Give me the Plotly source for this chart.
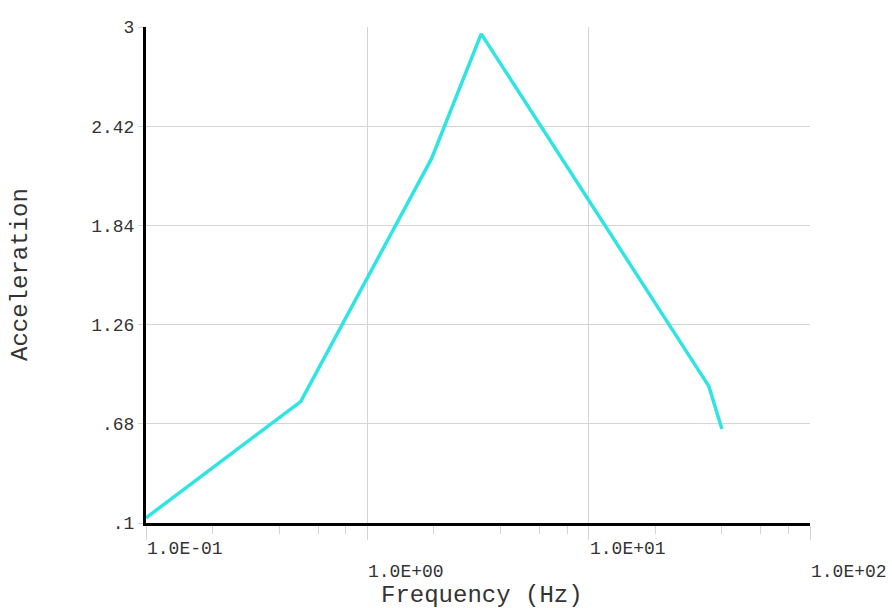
import math
import plotly.graph_objects as go

frequency = [0.1, 0.5, 1.95, 3.27, 34.9, 40.0]
acceleration = [0.13, 0.81, 2.23, 2.96, 0.90, 0.65]

y_tickvals = [0.1, 0.68, 1.26, 1.84, 2.42, 3.0]
y_ticktext = [".1", ".68", "1.26", "1.84", "2.42", "3"]

x_tickvals = [0.1, 1.0, 10.0, 100.0]
x_ticktext = ["1.0E-01", "1.0E+00", "1.0E+01", "1.0E+02"]
x_minor = [m * d for d in (0.1, 1.0, 10.0) for m in (2, 4, 6, 8)]

x_title = "Frequency (Hz)"
y_title = "Acceleration"

FONT = "Liberation Mono, Courier New, monospace"
GRID = "#d4d4d4"
TXT = "#333333"

fig = go.Figure()
fig.add_trace(go.Scatter(
    x=frequency, y=acceleration, mode="lines",
    line=dict(color="#30e4e4", width=3.5), showlegend=False,
))

for i, (v, t) in enumerate(zip(x_tickvals, x_ticktext)):
    fig.add_annotation(
        x=math.log10(v), y=0, xref="x", yref="paper", text=t, showarrow=False,
        xanchor="left", yanchor="middle", xshift=-1,
        yshift=-26 if i % 2 == 0 else -49,
        font=dict(family=FONT, size=18, color=TXT),
    )

fig.add_annotation(
    x=0.5, y=0, xref="paper", yref="paper", text=x_title, showarrow=False,
    xanchor="center", yanchor="middle", yshift=-72, xshift=4,
    font=dict(family=FONT, size=24, color=TXT),
)
fig.add_annotation(
    x=0, y=0.5, xref="paper", yref="paper", text=y_title, showarrow=False,
    xanchor="center", yanchor="middle", xshift=-126, textangle=-90,
    font=dict(family=FONT, size=24, color=TXT),
)

fig.update_layout(
    width=892, height=608,
    margin=dict(l=146, r=82, t=27, b=85),
    paper_bgcolor="white", plot_bgcolor="white",
    font=dict(family=FONT, size=18, color=TXT),
    xaxis=dict(
        type="log", range=[-1, 2], automargin=False,
        tickmode="array", tickvals=x_tickvals, ticktext=x_ticktext,
        showticklabels=False,
        showgrid=True, gridcolor=GRID, gridwidth=1,
        ticks="outside", ticklen=14, tickcolor=GRID, tickwidth=1,
        minor=dict(tickmode="array", tickvals=x_minor, ticks="outside",
                   ticklen=8, tickcolor=GRID, tickwidth=1, showgrid=False),
        showline=True, linecolor="black", linewidth=3,
        zeroline=False,
    ),
    yaxis=dict(
        range=[0.1, 3.0], automargin=False,
        tickmode="array", tickvals=y_tickvals, ticktext=y_ticktext,
        showgrid=True, gridcolor=GRID, gridwidth=1,
        ticks="outside", ticklen=5, tickcolor=GRID, tickwidth=1,
        tickfont=dict(family=FONT, size=18, color=TXT),
        showline=True, linecolor="black", linewidth=3,
        zeroline=False,
    ),
)

fig.write_html(
    "out.html",
    config={"displayModeBar": False},
    post_script="document.body.style.margin='0';document.body.style.overflow='hidden';",
)
